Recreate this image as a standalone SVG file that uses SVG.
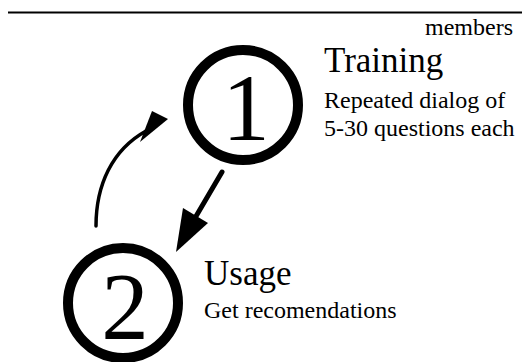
<svg xmlns="http://www.w3.org/2000/svg" width="525" height="362" viewBox="0 0 525 362" font-family="Liberation Serif, serif">
<style>
svg text, text, tspan{font-family:"Liberation Serif","Times New Roman",Tinos,serif !important}
.ring{fill:none;stroke:#000;stroke-width:10}
.ln{fill:none;stroke:#000;stroke-linecap:round}
</style>
<rect width="525" height="362" fill="#fff"/>
<line x1="8" y1="12.5" x2="522" y2="12.5" stroke="#000" stroke-width="2"/>
<text x="513" y="35" font-size="24" text-anchor="end" font-family="Liberation Serif">members</text>
<g id="node1">
<circle class="ring" cx="243" cy="105" r="55"/>
<text x="246" y="140" font-size="95" text-anchor="middle" font-family="Liberation Serif">1</text>
<text x="324" y="72" font-size="35" font-family="Liberation Serif">Training</text>
<text x="324" y="108" font-size="24" font-family="Liberation Serif">Repeated dialog of</text>
<text x="324" y="136" font-size="24" font-family="Liberation Serif">5-30 questions each</text>
</g>
<g id="node2">
<circle class="ring" cx="123" cy="303" r="55"/>
<text x="125" y="339" font-size="95" text-anchor="middle" font-family="Liberation Serif">2</text>
<text x="204" y="285" font-size="35" font-family="Liberation Serif">Usage</text>
<text x="204" y="318" font-size="24" font-family="Liberation Serif">Get recomendations</text>
</g>
<g id="connectors">
<line class="ln" x1="222" y1="172" x2="195" y2="218" stroke-width="5"/>
<polygon points="176,252 183,208 208,223" fill="#000"/>
<path class="ln" d="M96,226 C96,185 112,150 146,131" stroke-width="3.5"/>
<polygon points="168,119 140,142 152,111" fill="#000"/>
</g>
</svg>
